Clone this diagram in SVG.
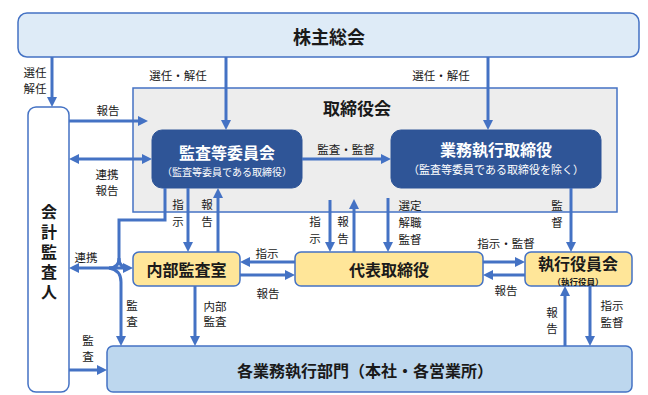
<svg xmlns="http://www.w3.org/2000/svg" width="648" height="395" viewBox="0 0 648 395">
<defs>
<style>
text{font-family:"Noto Sans CJK JP","Noto Sans CJK SC",sans-serif;fill:#1a1a1a;text-anchor:middle;dominant-baseline:central}
.t{font-weight:bold}
.w{fill:#ffffff}
.lb{font-size:11.5px}
.vt{writing-mode:vertical-rl;letter-spacing:4px}
.ln{fill:none;stroke:#4472C4;stroke-width:3}
.a{marker-end:url(#ah)}
.d{marker-start:url(#ah);marker-end:url(#ah)}
.bx{stroke:#4472C4;stroke-width:1.5}
</style>
<marker id="ah" markerUnits="userSpaceOnUse" markerWidth="10" markerHeight="10" refX="5" refY="5" orient="auto-start-reverse">
<path d="M0,0 L10,5 L0,10 z" fill="#4472C4"/>
</marker>
</defs>
<rect width="648" height="395" fill="#ffffff"/>

<g id="board">
<rect x="133" y="88" width="484" height="124" fill="#EDEDED" stroke="#4472C4" stroke-width="1.5"/>
<text x="357" y="107" class="t" font-size="17">取締役会</text>
</g>

<g id="shareholders">
<rect class="bx" x="18" y="13" width="621" height="44" rx="9" fill="#DEEBF7"/>
<text x="329" y="36" class="t" font-size="18">株主総会</text>
</g>

<g id="auditor">
<rect class="bx" x="28" y="107" width="41" height="285" rx="8" fill="#ffffff"/>
<text class="t vt" x="49" y="254" font-size="16">会計監査人</text>
</g>

<g id="audit-committee">
<rect x="152" y="130" width="150" height="58" rx="10" fill="#2F5597" stroke="#2F5597"/>
<text x="227" y="151.5" class="t w" font-size="16">監査等委員会</text>
<text x="227" y="171.5" class="w" font-size="10">（監査等委員である取締役）</text>
</g>

<g id="exec-directors">
<rect x="391" y="130" width="210" height="58" rx="10" fill="#2F5597" stroke="#2F5597"/>
<text x="496" y="149" class="t w" font-size="16">業務執行取締役</text>
<text x="496" y="169" class="w" font-size="11">（監査等委員である取締役を除く）</text>
</g>

<g id="internal-audit">
<rect class="bx" x="133" y="252" width="107" height="34" rx="6" fill="#FFE699"/>
<text x="186.5" y="269" class="t" font-size="16">内部監査室</text>
</g>

<g id="representative">
<rect class="bx" x="295" y="252" width="188" height="34" rx="6" fill="#FFE699"/>
<text x="389" y="269" class="t" font-size="16">代表取締役</text>
</g>

<g id="exec-officers">
<rect class="bx" x="525" y="252" width="107" height="34" rx="6" fill="#FFE699"/>
<text x="578" y="262.5" class="t" font-size="16">執行役員会</text>
<text x="578" y="280.5" class="t" font-size="8.5">（執行役員）</text>
</g>

<g id="departments">
<rect class="bx" x="107" y="346" width="525" height="46" rx="6" fill="#BDD7EE"/>
<text x="365" y="370" class="t" font-size="16">各業務執行部門（本社・各営業所）</text>
</g>

<g id="connectors">
<path class="ln a" d="M52,57 V102"/>
<path class="ln a" d="M226,57 V125"/>
<path class="ln a" d="M488,57 V125"/>
<path class="ln a" d="M69,121 H143"/>
<path class="ln d" d="M74,159 H147"/>
<path class="ln a" d="M302,159 H386"/>
<path class="ln a" d="M188,188 V247"/>
<path class="ln a" d="M218,252 V193"/>
<path class="ln" d="M165,188 V220 H119 V258 Q119,268 109,268"/>
<path class="ln" d="M119,258 Q119,268 129,268"/>
<path class="ln d" d="M74,268 H128"/>
<path class="ln a" d="M109,268 Q121,270 121,282 V341"/>
<path class="ln a" d="M330,200 V247"/>
<path class="ln a" d="M354,252 V204"/>
<path class="ln a" d="M388,198 V247"/>
<path class="ln a" d="M571,188 V247"/>
<path class="ln a" d="M295,262 H245"/>
<path class="ln a" d="M240,275 H290"/>
<path class="ln a" d="M483,262 H520"/>
<path class="ln a" d="M525,275 H488"/>
<path class="ln a" d="M565,346 V291"/>
<path class="ln a" d="M590,286 V341"/>
<path class="ln a" d="M195,286 V341"/>
<path class="ln a" d="M69,370 H102"/>
</g>

<g id="labels">
<text class="lb"><tspan x="35" y="72">選任</tspan><tspan x="35" y="88">解任</tspan></text>
<text class="lb" x="178" y="75">選任・解任</text>
<text class="lb" x="441" y="75">選任・解任</text>
<text class="lb" x="108" y="110">報告</text>
<text class="lb"><tspan x="107" y="174">連携</tspan><tspan x="107" y="190">報告</tspan></text>
<text class="lb" x="346" y="149">監査・監督</text>
<text class="lb"><tspan x="178" y="204">指</tspan><tspan x="178" y="221">示</tspan></text>
<text class="lb"><tspan x="207" y="204">報</tspan><tspan x="207" y="221">告</tspan></text>
<text class="lb"><tspan x="315" y="221">指</tspan><tspan x="315" y="238">示</tspan></text>
<text class="lb"><tspan x="343" y="221">報</tspan><tspan x="343" y="238">告</tspan></text>
<text class="lb"><tspan x="410" y="205">選定</tspan><tspan x="410" y="222">解職</tspan><tspan x="410" y="239">監督</tspan></text>
<text class="lb"><tspan x="557" y="205">監</tspan><tspan x="557" y="222">督</tspan></text>
<text class="lb" x="267" y="253">指示</text>
<text class="lb" x="268" y="293">報告</text>
<text class="lb" x="506" y="243">指示・監督</text>
<text class="lb" x="506" y="290">報告</text>
<text class="lb"><tspan x="552" y="312">報</tspan><tspan x="552" y="328">告</tspan></text>
<text class="lb"><tspan x="612" y="305">指示</tspan><tspan x="612" y="322">監督</tspan></text>
<text class="lb"><tspan x="215" y="306">内部</tspan><tspan x="215" y="321">監査</tspan></text>
<text class="lb"><tspan x="88" y="340">監</tspan><tspan x="88" y="356">査</tspan></text>
<text class="lb" x="86" y="257">連携</text>
<text class="lb"><tspan x="132" y="305">監</tspan><tspan x="132" y="321">査</tspan></text>
</g>
</svg>
